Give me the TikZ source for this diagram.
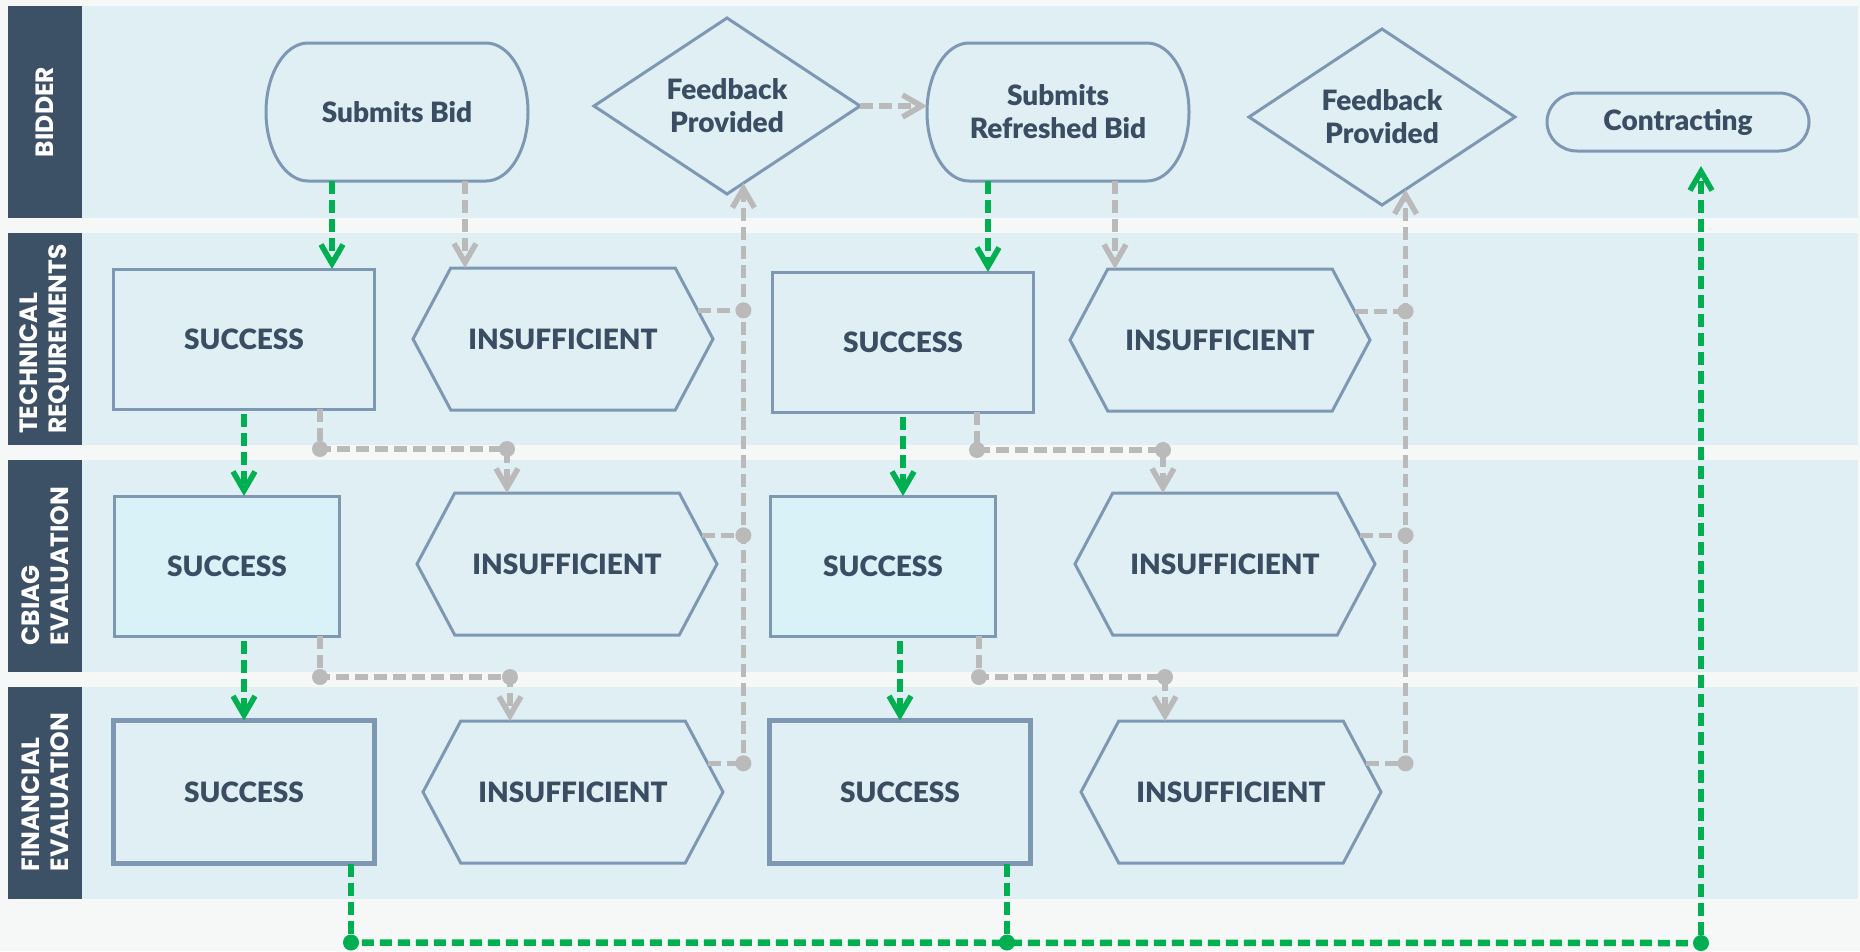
\documentclass[tikz,border=0pt]{standalone}
\usepackage{fontspec}
\setmainfont{Lato}[BoldFont = {Lato Black}]
\newfontfamily\lanefont{Poppins}
\usetikzlibrary{arrows.meta, shapes.geometric, shapes.symbols}

\definecolor{pagebg}{HTML}{F6F7F7}
\definecolor{lanebg}{HTML}{DFEFF4}
\definecolor{lanehead}{HTML}{3D5166}
\definecolor{boxline}{HTML}{7E98B4}
\definecolor{boxfill}{HTML}{DFEFF4}
\definecolor{cbiagfill}{HTML}{D9F2F8}
\definecolor{inktext}{HTML}{3A4D62}
\definecolor{passgreen}{HTML}{00B050}
\definecolor{failgray}{HTML}{BABABA}

\tikzset{boxshape/.style = {draw = boxline, line width = 3pt, fill = boxfill}}
\tikzset{boxtext/.style = {text = inktext, font = \bfseries\fontsize{28}{33}\selectfont, align = center, inner sep = 0pt, outer sep = 0pt}}

% bid shapes with elliptic ends: centre x, centre y, half width, half height, end radius
\newcommand{\bidshape}[5]{%
  \draw[boxshape] ({#1-#3+#5}, {#2-#4}) -- ({#1+#3-#5}, {#2-#4})
    arc[start angle = 90, end angle = -90, x radius = #5pt, y radius = #4pt]
    -- ({#1-#3+#5}, {#2+#4})
    arc[start angle = 270, end angle = 90, x radius = #5pt, y radius = #4pt] -- cycle;}

\begin{document}
\begin{tikzpicture}[x = 1pt, y = -1pt,
    lanename/.style = {text = white, font = \lanefont\bfseries\fontsize{25}{29}\selectfont, rotate = 90, align = left},
    bidtext/.style = {boxtext, minimum width = 262pt, minimum height = 138pt},
    success/.style = {boxtext, boxshape, rectangle, minimum width = 261pt, minimum height = 140pt},
    insufficient/.style = {boxtext, boxshape, signal, signal to = east and west, signal pointer angle = 124, minimum width = 300pt, minimum height = 142pt},
    feedback/.style = {boxtext, boxshape, diamond, minimum width = 266pt, minimum height = 176pt},
    passline/.style = {passgreen, line width = 5.5pt, dash pattern = on 13pt off 6pt},
    passfloor/.style = {passgreen, line width = 6.5pt, dash pattern = on 12pt off 6pt},
    passflow/.style = {passline, -{Straight Barb[length = 19pt, width = 22pt]}},
    failline/.style = {failgray, line width = 5.5pt, dash pattern = on 13pt off 6pt},
    failflow/.style = {failline, -{Straight Barb[length = 19pt, width = 22pt]}},
    graydot/.style = {circle, fill = failgray, inner sep = 0pt, minimum size = 16pt},
    greendot/.style = {circle, fill = passgreen, inner sep = 0pt, minimum size = 16pt}]

    \useasboundingbox (0, 0) rectangle (1860, 951);
    \fill[pagebg] (0, 0) rectangle (1860, 951);

    % swim lanes
    \foreach \y in {6, 233, 460, 687} {
        \fill[lanebg] (82, \y) rectangle (1858, \y + 212);
        \fill[lanehead] (8, \y) rectangle (82, \y + 212);
    }
    \node[lanename] (bidder) at (45, 112) {BIDDER};
    \node[lanename] (tech) at (45, 339) {TECHNICAL\\REQUIREMENTS};
    \node[lanename] (cbiag) at (45, 566) {CBIAG\\EVALUATION};
    \node[lanename] (fin) at (45, 792) {FINANCIAL\\EVALUATION};

    % bidder lane
    \bidshape{397}{112}{131}{69}{42}
    \bidshape{1058}{112}{131}{69}{42}
    \bidshape{1678}{122}{131}{29}{30}
    \node[bidtext] (sb) at (397, 112) {Submits Bid};
    \node[bidtext] (srb) at (1058, 112) {Submits\\Refreshed Bid};
    \node[bidtext, minimum height = 58pt] (ct) at (1678, 122) {Contracting};
    \node[feedback] (fb1) at (727, 106) {Feedback\\Provided};
    \node[feedback] (fb2) at (1382, 117) {Feedback\\Provided};

    % evaluation lanes
    \node[success] (s1) at (244, 339) {SUCCESS};
    \node[insufficient] (i1) at (563, 339) {INSUFFICIENT};
    \node[success] (s2) at (903, 342) {SUCCESS};
    \node[insufficient] (i2) at (1220, 340) {INSUFFICIENT};

    \node[success, fill = cbiagfill, minimum width = 225pt] (s3) at (227, 566) {SUCCESS};
    \node[insufficient] (i3) at (567, 564) {INSUFFICIENT};
    \node[success, fill = cbiagfill, minimum width = 225pt] (s4) at (883, 566) {SUCCESS};
    \node[insufficient] (i4) at (1225, 564) {INSUFFICIENT};

    \node[success, line width = 5pt, minimum height = 143pt] (s5) at (244, 792) {SUCCESS};
    \node[insufficient] (i5) at (573, 792) {INSUFFICIENT};
    \node[success, line width = 5pt, minimum height = 143pt] (s6) at (900, 792) {SUCCESS};
    \node[insufficient] (i6) at (1231, 792) {INSUFFICIENT};

    % first bid
    \draw[passflow] ([xshift = -65pt]sb.south) -- ([xshift = 88pt]s1.north);
    \draw[failflow] ([xshift = 68pt]sb.south) -- ([xshift = -98pt]i1.north);
    \draw[passflow, shorten <= 5pt] (s1.south) -- (s1.south |- s3.north);
    \draw[failflow] ([xshift = 76pt]s1.south) -- ++(0, 40) node[graydot] (j1) {}
        -| node[graydot, pos = 0.5] (j2) {} ([xshift = -60pt]i3.north);
    \draw[passflow, shorten <= 5pt] (s3.south -| s5.north) -- (s5.north);
    \draw[failflow] ([xshift = 93pt]s3.south) -- ++(0, 41) node[graydot] (j3) {}
        -| node[graydot, pos = 0.5] (j4) {} ([xshift = -63pt]i5.north);
    \draw[passline] ([xshift = 107pt]s5.south) -- ++(0, 79) node[greendot] (g1) {};

    \draw[failline] (i1.12) -- (i1.12 -| fb1.282) node[graydot] (j5) {};
    \draw[failline] (i3.12) -- (i3.12 -| fb1.282) node[graydot] (j6) {};
    \draw[failline] (i5.12) -- (i5.12 -| fb1.282) node[graydot] (j7) {};
    \draw[failflow] (j7) -- (fb1.282);
    \draw[failflow] (fb1.east) -- (fb1.east -| srb.west);

    % refreshed bid
    \draw[passflow] ([xshift = -70pt]srb.south) -- ([xshift = 85pt]s2.north);
    \draw[failflow] ([xshift = 57pt]srb.south) -- ([xshift = -105pt]i2.north);
    \draw[passflow, shorten <= 5pt] (s2.south) -- (s2.south |- s4.north);
    \draw[failflow] ([xshift = 74pt]s2.south) -- ++(0, 38) node[graydot] (k1) {}
        -| node[graydot, pos = 0.5] (k2) {} ([xshift = -62pt]i4.north);
    \draw[passflow, shorten <= 5pt] (s4.south -| s6.north) -- (s6.north);
    \draw[failflow] ([xshift = 96pt]s4.south) -- ++(0, 41) node[graydot] (k3) {}
        -| node[graydot, pos = 0.5] (k4) {} ([xshift = -66pt]i6.north);
    \draw[passline] ([xshift = 107pt]s6.south) -- ++(0, 79) node[greendot] (g2) {};

    \draw[failline] (i2.12) -- (i2.12 -| fb2.288) node[graydot] (k5) {};
    \draw[failline] (i4.12) -- (i4.12 -| fb2.288) node[graydot] (k6) {};
    \draw[failline] (i6.12) -- (i6.12 -| fb2.288) node[graydot] (k7) {};
    \draw[failflow] (k7) -- (fb2.288);

    % to contracting
    \node[greendot] (g3) at (1701, 943) {};
    \draw[passfloor] (g1) -- (g3);
    \draw[passflow, shorten >= 15pt] (g3) -- (g3 |- ct.south);
\end{tikzpicture}
\end{document}
